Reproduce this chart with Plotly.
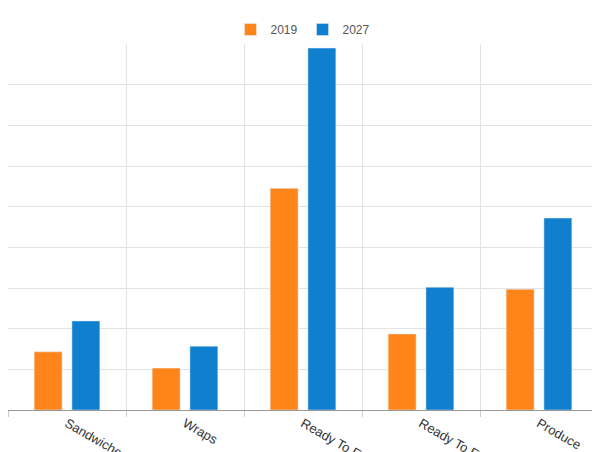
import plotly.graph_objects as go

categories = ["Sandwiches", "Wraps", "Ready To Eat Salads", "Ready To Eat Meals", "Produce"]
values_2019 = [1.43, 1.03, 5.45, 1.87, 2.97]
values_2027 = [2.19, 1.57, 8.9, 3.02, 4.72]

x = list(range(len(categories)))

fig = go.Figure()
fig.add_trace(go.Bar(x=x, y=values_2019, name="2019", marker_color="#FF851B"))
fig.add_trace(go.Bar(x=x, y=values_2027, name="2027", marker_color="#0F7FCE"))

fig.update_layout(
    width=600, height=452,
    margin=dict(l=0, r=10, t=36, b=50),
    plot_bgcolor="white", paper_bgcolor="white",
    barmode="group", bargap=0.36, bargroupgap=0.26,
    font=dict(family="Liberation Sans, Arial", size=13, color="#333"),
    legend=dict(orientation="h", x=0.5, xanchor="center", y=1.0, yanchor="bottom",
                font=dict(size=12, color="#555")),
)
fig.update_xaxes(
    range=[-0.5, 4.5], tickvals=x, ticktext=categories, showgrid=False,
    showline=True, linecolor="#999", automargin=False,
    minor=dict(tick0=-0.5, dtick=1, showgrid=True, gridcolor="#e3e3e3",
               ticks="outside", ticklen=6, tickcolor="#ccc"),
)
fig.update_yaxes(
    range=[0, 9], dtick=1, showticklabels=False, gridcolor="#e3e3e3",
    showline=True, linecolor="#ccc", zeroline=False, automargin=False,
)

fig.write_html("out.html")
